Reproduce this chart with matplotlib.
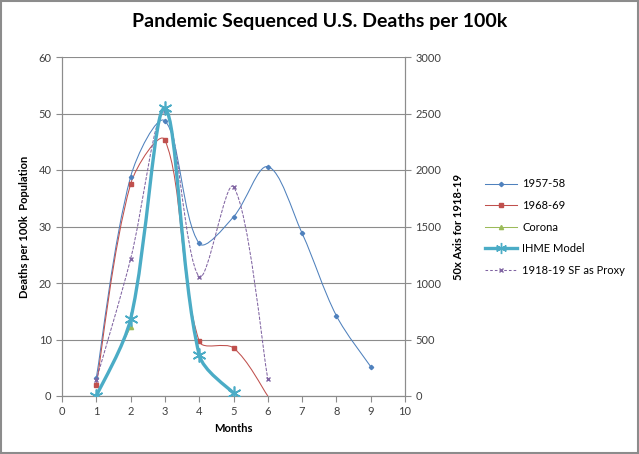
import matplotlib
matplotlib.use("Agg")
import matplotlib.pyplot as plt
from matplotlib.path import Path
from matplotlib.patches import PathPatch, Rectangle
from matplotlib.lines import Line2D
import numpy as np

plt.rcParams['font.family'] = ['Lato', 'DejaVu Sans']

# ---- data ----
months_5758 = [1, 2, 3, 4, 5, 6, 7, 8, 9]
deaths_5758 = [3.2, 38.8, 48.7, 27.0, 31.7, 40.6, 28.8, 14.2, 5.2]

months_6869 = [1, 2, 3, 4, 5, 6]
deaths_6869 = [1.9, 37.5, 45.3, 9.7, 8.5, 0.0]

months_corona = [1, 2]
deaths_corona = [0.0, 12.2]

months_ihme = [1, 2, 3, 4, 5]
deaths_ihme = [0.0, 13.6, 50.9, 7.3, 0.5]

months_1918 = [1, 2, 3, 4, 5, 6]
deaths_1918 = [142, 1212, 2525, 1056, 1852, 150]   # on 50x secondary axis

x_ticks = list(range(0, 11))
y_ticks = list(range(0, 61, 10))
y2_ticks = list(range(0, 3001, 500))

C_5758 = '#4F81BD'
C_6869 = '#C0504D'
C_CORONA = '#9BBB59'
C_IHME = '#4BACC6'
C_1918 = '#8064A2'
GRID = '#8C8C8C'
TICKC = '#404040'


def smooth_path(ax, xs, ys):
    # chord-length scaled cubic Bezier spline computed in display space
    data = np.column_stack([xs, ys]).astype(float)
    pts = ax.transData.transform(data)
    n = len(pts)
    verts = [pts[0]]
    codes = [Path.MOVETO]
    L = [np.hypot(*(pts[i + 1] - pts[i])) for i in range(n - 1)]
    def tangent(i):
        if i == 0 or i == n - 1:
            return np.zeros(2)
        return pts[i + 1] - pts[i - 1]
    for i in range(n - 1):
        Li = L[i]
        if i > 0:
            c1 = pts[i] + tangent(i) * Li / (L[i - 1] + Li) / 3.0
        else:
            c1 = pts[i] + (pts[i + 1] - pts[i]) / 3.0 * 0.5
        if i + 1 < n - 1:
            c2 = pts[i + 1] - tangent(i + 1) * Li / (Li + L[i + 1]) / 3.0
        else:
            c2 = pts[i + 1] - (pts[i + 1] - pts[i]) / 3.0 * 0.5
        verts += [c1, c2, pts[i + 1]]
        codes += [Path.CURVE4] * 3
    verts = ax.transData.inverted().transform(np.array(verts))
    return Path(verts, codes)


def draw_smooth(ax, xs, ys, color, lw, ls='-', z=2):
    patch = PathPatch(smooth_path(ax, xs, ys), facecolor='none', edgecolor=color,
                      lw=lw, linestyle=ls, zorder=z, capstyle='round',
                      joinstyle='round')
    ax.add_patch(patch)


fig = plt.figure(figsize=(6.39, 4.54), dpi=100)
fig.patches.append(Rectangle((0.002, 0.003), 0.996, 0.994, transform=fig.transFigure,
                             fill=False, edgecolor='#8C8C8C', lw=1.5, zorder=0))

ax = fig.add_axes([62 / 639, 1 - 396 / 454, (405 - 62) / 639, (396 - 57) / 454])
ax2 = ax.twinx()

ax.set_xlim(0, 10)
ax.set_ylim(0, 60)
ax2.set_ylim(0, 3000)
ax.set_xticks(x_ticks)
ax.set_yticks(y_ticks)
ax2.set_yticks(y2_ticks)

for a in (ax, ax2):
    for s in a.spines.values():
        s.set_color(GRID)
        s.set_linewidth(0.8)
    a.spines['top'].set_visible(False)
    a.tick_params(colors=GRID, labelcolor=TICKC, labelsize=8, length=4, width=0.8)
ax.yaxis.grid(True, color=GRID, lw=0.8)
ax.set_axisbelow(True)

ax.set_xlabel('Months', fontsize=8, fontweight='bold', labelpad=4)
ax.set_ylabel('Deaths per 100k  Population', fontsize=8, fontweight='bold', labelpad=6)
ax2.set_ylabel('50x Axis for 1918-19', fontsize=8, fontweight='bold', labelpad=8)

# series
draw_smooth(ax, months_5758, deaths_5758, C_5758, 0.75)
ax.plot(months_5758, deaths_5758, ls='none', marker='D', ms=2.2, color=C_5758, zorder=3)

draw_smooth(ax, months_6869, deaths_6869, C_6869, 0.75)
ax.plot(months_6869[:-1], deaths_6869[:-1], ls='none', marker='s', ms=3, color=C_6869, zorder=3)

draw_smooth(ax, months_corona, deaths_corona, C_CORONA, 0.75)
ax.plot(months_corona, deaths_corona, ls='none', marker='^', ms=3, color=C_CORONA, zorder=3)

draw_smooth(ax2, months_1918, deaths_1918, C_1918, 0.75, ls=(0, (2.5, 2)), z=2)
ax2.plot(months_1918, deaths_1918, ls='none', marker='x', ms=3.5, mew=1, color=C_1918, zorder=3)

draw_smooth(ax2, months_ihme, [v * 50 for v in deaths_ihme], C_IHME, 2.4, z=4)
ax2.plot(months_ihme, [v * 50 for v in deaths_ihme], ls='none', marker=(6, 2, 0), ms=10,
         mew=1.2, color=C_IHME, zorder=5)

fig.suptitle('Pandemic Sequenced U.S. Deaths per 100k', fontsize=14, fontweight='bold',
             y=1 - 22 / 454, va='center')

handles = [
    Line2D([], [], color=C_5758, lw=0.75, marker='D', ms=2.2),
    Line2D([], [], color=C_6869, lw=0.75, marker='s', ms=3),
    Line2D([], [], color=C_CORONA, lw=0.75, marker='^', ms=3),
    Line2D([], [], color=C_IHME, lw=2.4, marker=(6, 2, 0), ms=8, mew=1),
    Line2D([], [], color=C_1918, lw=0.75, ls=(0, (2.5, 2)), marker='x', ms=3.5),
]
labels = ['1957-58', '1968-69', 'Corona', 'IHME Model', '1918-19 SF as Proxy']
fig.legend(handles, labels, loc='center left', bbox_to_anchor=(485 / 639, 1 - 227 / 454),
           frameon=False, fontsize=8, handlelength=2.9, handletextpad=0.45,
           labelspacing=0.95, borderpad=0, borderaxespad=0)

fig.savefig('out.png', dpi=100)
